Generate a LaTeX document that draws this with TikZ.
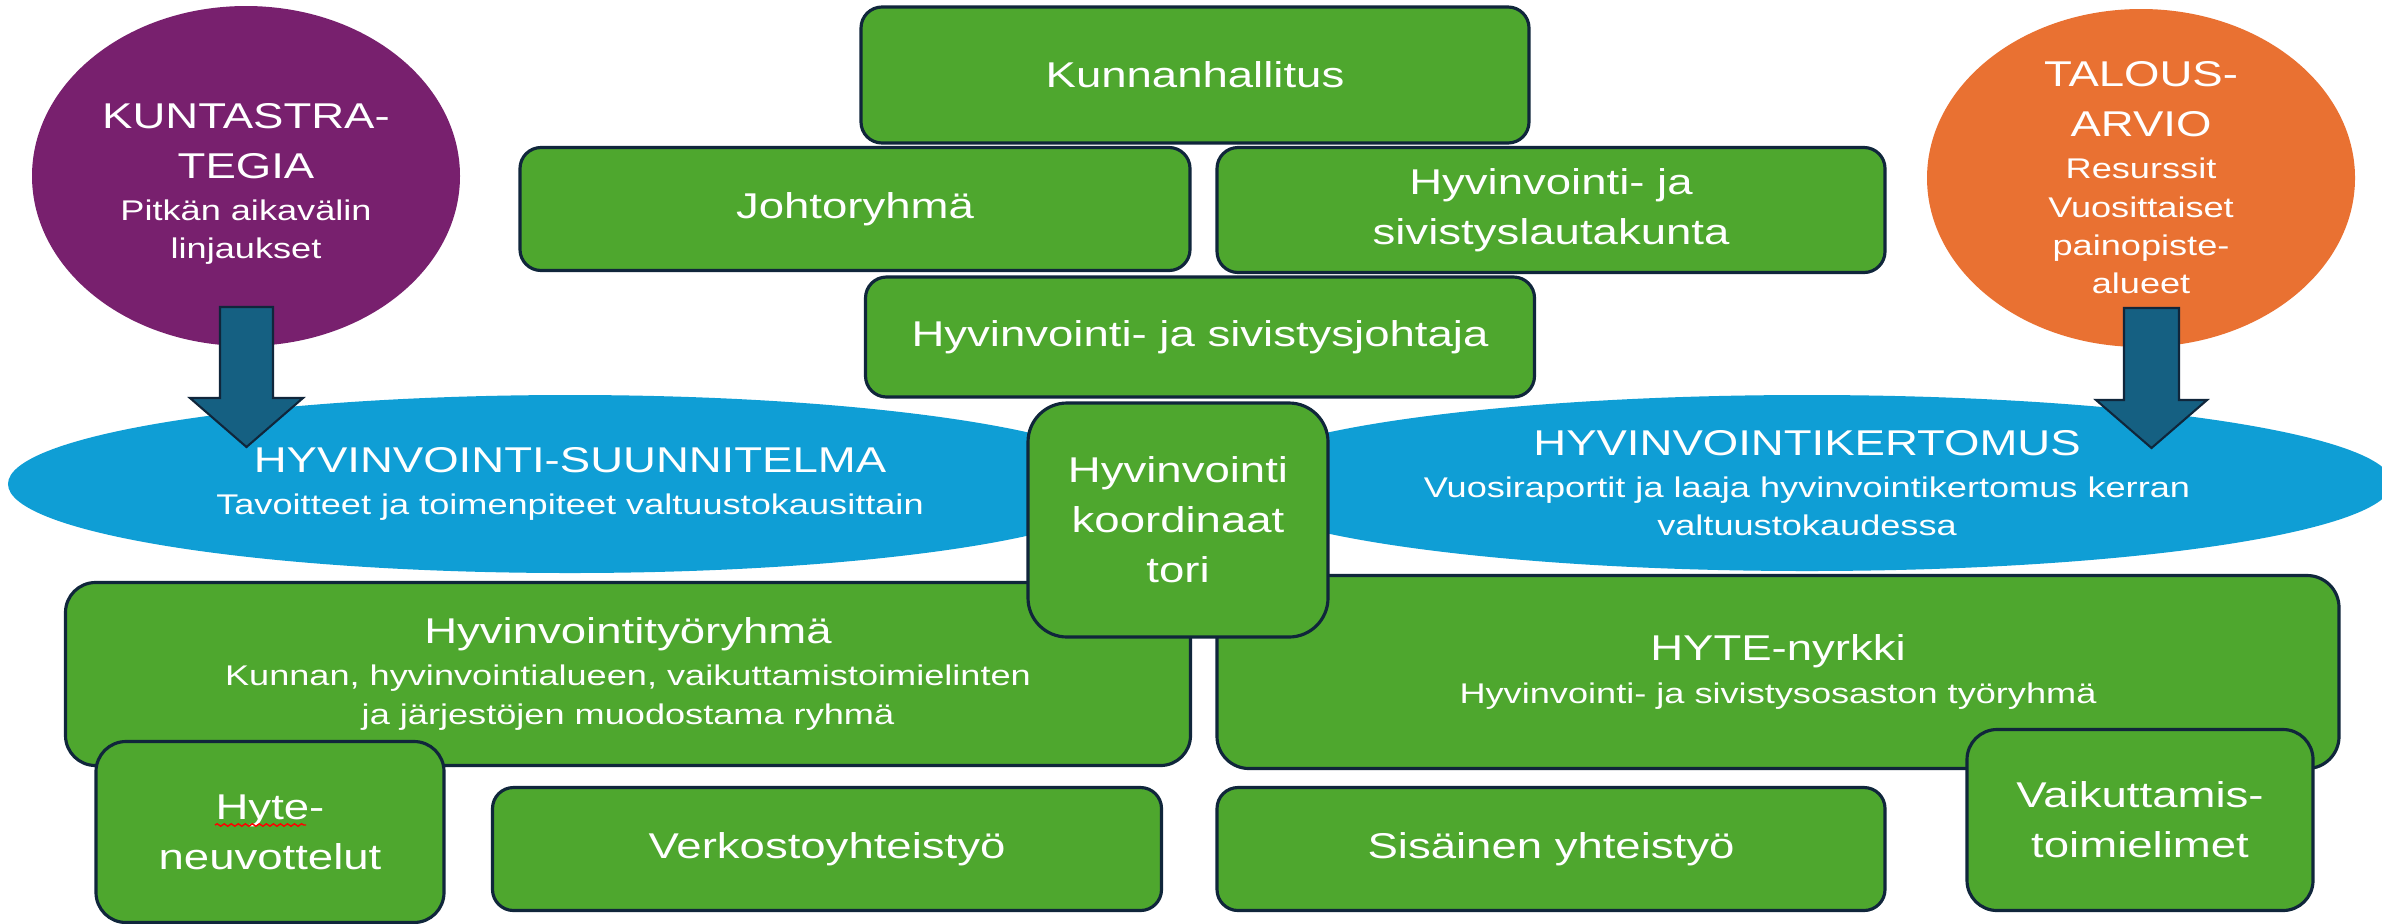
\documentclass[tikz,border=0pt]{standalone}
\usepackage{fontspec}
\setmainfont{Liberation Sans}[FakeStretch=1.27]
\usetikzlibrary{shapes.geometric, decorations.pathmorphing}
\definecolor{leafgreen}{RGB}{78, 167, 46}
\definecolor{inkblue}{RGB}{16, 38, 59}
\definecolor{plum}{RGB}{120, 32, 110}
\definecolor{tangerine}{RGB}{233, 113, 50}
\definecolor{skyblue}{RGB}{15, 158, 213}
\definecolor{deepteal}{RGB}{21, 96, 130}
\newcommand{\mainsize}{\fontsize{10.2}{14.2}\selectfont}
\newcommand{\subsize}{\fontsize{8.1}{11}\selectfont}
\tikzset{
  unitbox/.style={draw=inkblue, line width=0.9pt, fill=leafgreen, text=white, rounded corners=#1,
                  inner sep=0pt, align=center, font=\mainsize},
  unitbox/.default=0.21cm,
  bubble/.style={ellipse, fill=#1, inner sep=0pt},
  bubbletext/.style={text=white, inner sep=0pt, align=center, font=\mainsize},
  blockarrow/.style={draw=inkblue, line width=0.6pt, fill=deepteal},
}

\begin{document}
\begin{tikzpicture}
  % Frame to ensure alignment:
  \useasboundingbox (0.00, 0.00) rectangle (23.82, -9.23);
  \fill[white]      (0.00, 0.00) rectangle (23.82, -9.23);

  % Strategy and budget circles
  \node[bubble=plum,      minimum width=4.28cm,  minimum height=3.40cm] (strategia) at ( 2.46, -1.76) {};
  \node[bubbletext] (strategia-txt) at ( 2.46, -1.84) {KUNTASTRA-\\TEGIA\\[-2.25pt]\subsize Pitkän aikavälin\\[-3.3pt]\subsize linjaukset};
  \node[bubble=tangerine, minimum width=4.28cm,  minimum height=3.38cm] (talous)    at (21.41, -1.78) {};
  \node[bubbletext] (talous-txt) at (talous) {TALOUS-\\ARVIO\\[-2.25pt]\subsize Resurssit\\[-3.3pt]\subsize Vuosittaiset\\[-3.3pt]\subsize painopiste-\\[-3.3pt]\subsize alueet};

  % Plan and report ellipses
  \node[bubble=skyblue,   minimum width=11.24cm, minimum height=1.78cm] (suunnitelma) at ( 5.70, -4.84) {};
  \node[bubbletext] (suunnitelma-txt) at (suunnitelma) {HYVINVOINTI-SUUNNITELMA\\[-2.4pt]\subsize Tavoitteet ja toimenpiteet valtuustokausittain};
  \node[bubble=skyblue,   minimum width=11.70cm, minimum height=1.76cm] (kertomus)    at (18.07, -4.83) {};
  \node[bubbletext] (kertomus-txt) at (kertomus) {HYVINVOINTIKERTOMUS\\[-2.25pt]\subsize Vuosiraportit ja laaja hyvinvointikertomus kerran\\[-3.3pt]\subsize valtuustokaudessa};

  % Block arrows
  \filldraw[blockarrow] ( 2.20, -3.07) -- ( 2.73, -3.07) -- ( 2.73, -3.98) -- ( 3.03, -3.98)
                     -- ( 2.465, -4.47) -- ( 1.90, -3.98) -- ( 2.20, -3.98) -- cycle;
  \filldraw[blockarrow] (21.24, -3.08) -- (21.79, -3.08) -- (21.79, -4.00) -- (22.07, -4.00)
                     -- (21.515, -4.48) -- (20.96, -4.00) -- (21.24, -4.00) -- cycle;

  % Organisation boxes
  \node[unitbox,       minimum width=6.68cm,  minimum height=1.36cm] (kunnan)   at (11.95, -0.75) {Kunnanhallitus};
  \node[unitbox,       minimum width=6.70cm,  minimum height=1.23cm] (johto)    at ( 8.55, -2.09) {Johtoryhmä};
  \node[unitbox,       minimum width=6.68cm,  minimum height=1.25cm] (lauta)    at (15.51, -2.10) {Hyvinvointi- ja\\sivistyslautakunta};
  \node[unitbox,       minimum width=6.69cm,  minimum height=1.20cm] (johtaja)  at (12.00, -3.37) {Hyvinvointi- ja sivistysjohtaja};
  \node[unitbox=0.30cm, minimum width=11.25cm, minimum height=1.83cm] (tyoryhma) at ( 6.28, -6.74)
       {Hyvinvointityöryhmä\\[-2.25pt]\subsize Kunnan, hyvinvointialueen, vaikuttamistoimielinten\\[-3.3pt]\subsize ja järjestöjen muodostama ryhmä};
  \node[unitbox=0.32cm, minimum width=11.22cm, minimum height=1.93cm] (nyrkki)   at (17.78, -6.72)
       {HYTE-nyrkki\\[-2pt]\subsize Hyvinvointi- ja sivistysosaston työryhmä};
  \node[unitbox=0.39cm, minimum width=3.00cm,  minimum height=2.34cm] (koord)    at (11.78, -5.20) {Hyvinvointi\\koordinaat\\tori};
  \node[unitbox,       minimum width=6.69cm,  minimum height=1.23cm] (verkosto) at ( 8.27, -8.49) {Verkostoyhteistyö};
  \node[unitbox,       minimum width=6.68cm,  minimum height=1.23cm] (sisainen) at (15.51, -8.49) {Sisäinen yhteistyö};
  \node[unitbox=0.30cm, minimum width=3.48cm,  minimum height=1.81cm] (neuvot)   at ( 2.70, -8.32) {Hyte-\\neuvottelut};
  \node[unitbox=0.30cm, minimum width=3.46cm,  minimum height=1.81cm] (vaikut)   at (21.40, -8.20) {Vaikuttamis-\\toimielimet};

  % Spelling mark under Hyte
  \draw[red, line width=0.4pt, decorate, decoration={snake, amplitude=0.35pt, segment length=2pt}]
       ( 2.15, -8.25) -- ( 3.06, -8.25);
\end{tikzpicture}
\end{document}
